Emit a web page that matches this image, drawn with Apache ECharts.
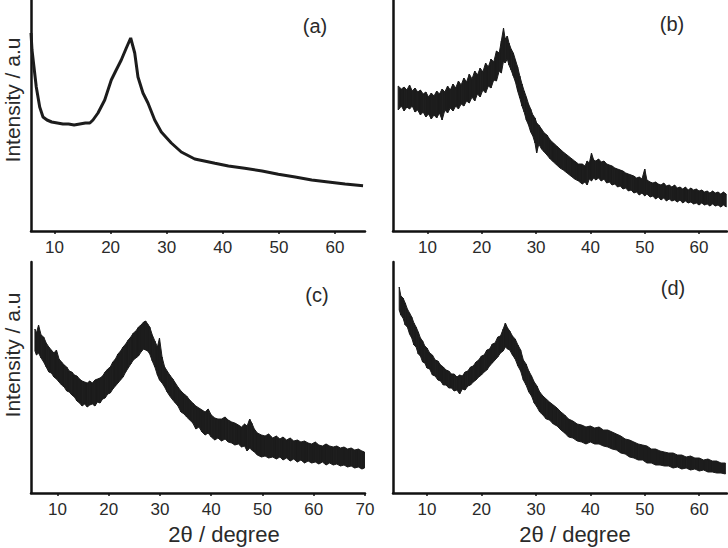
<!DOCTYPE html>
<html><head><meta charset="utf-8">
<script src="https://cdn.jsdelivr.net/npm/echarts@6/dist/echarts.min.js"></script>
<style>html,body{margin:0;padding:0;background:#fff}#c{width:728px;height:548px}</style>
</head><body><div id="c"></div>
<script>
// ---- tick labels ----
const ticksA = [10, 20, 30, 40, 50, 60];
const ticksB = [10, 20, 30, 40, 50, 60];
const ticksC = [10, 20, 30, 40, 50, 60, 70];
const ticksD = [10, 20, 30, 40, 50, 60];
const panelLabels = ['(a)', '(b)', '(c)', '(d)'];
const yName = 'Intensity / a.u';
const xName = '2θ / degree';

// ---- (a) smooth pattern: 2θ, intensity ----
const aX = [5.81, 5.99, 6.34, 6.75, 7.36, 7.95, 8.66, 9.5, 10.5, 11.5, 12.5, 13.5, 14.5, 15.5, 16.3, 16.86, 17.75, 18.95, 20.12, 21.0, 21.9, 22.8, 23.58, 24.3, 24.88, 25.77, 26.66, 27.86, 29.04, 30.82, 32.6, 35.0, 38.6, 41.0, 43.9, 47.0, 49.9, 52.9, 55.85, 58.8, 61.8, 65.0];
const aY = [198, 181, 164, 144, 124, 114, 111, 109, 108, 107, 107, 106, 107, 108, 108, 111, 118, 131, 151, 161, 171, 183, 193, 178, 154, 138, 128, 111, 99, 88, 79, 72, 67.7, 65, 62.7, 60, 56.7, 54, 51, 49, 47, 45.3];

// ---- (b) noisy pattern: 2θ, lower / upper edge of the noise band ----
const bX = [4.6, 5.2, 5.7, 6.2, 6.7, 7.2, 7.7, 8.2, 8.7, 9.2, 9.7, 10.2, 10.7, 11.2, 11.7, 12.2, 12.7, 13.2, 13.7, 14.2, 14.7, 15.2, 15.7, 16.2, 16.7, 17.2, 17.7, 18.2, 18.7, 19.2, 19.7, 20.2, 20.7, 21.2, 21.7, 22.2, 22.7, 23.2, 23.6, 24.0, 24.3, 24.7, 25.0, 25.4, 25.8, 26.2, 26.6, 27.0, 27.4, 27.8, 28.2, 28.6, 29.0, 29.4, 29.8, 30.1, 30.5, 31.0, 31.5, 32.0, 32.6, 33.2, 33.8, 34.4, 35.0, 35.7, 36.4, 37.1, 37.8, 38.5, 39.0, 39.4, 39.8, 40.2, 40.6, 41.0, 41.5, 42.0, 42.5, 43.0, 43.5, 44.0, 44.5, 45.0, 45.5, 46.0, 46.5, 47.0, 47.5, 48.0, 48.5, 49.0, 49.5, 50.0, 50.4, 51.0, 51.5, 52.0, 52.5, 53.0, 53.5, 54.0, 54.5, 55.0, 55.5, 56.0, 56.5, 57.0, 57.5, 58.0, 58.5, 59.0, 59.5, 60.0, 60.5, 61.0, 61.5, 62.0, 62.5, 63.0, 63.5, 64.0, 64.5, 65.0];
const bLo = [121, 125, 120, 124, 122, 125, 119, 121, 116, 119, 114, 117, 112, 116, 113, 118, 111, 121, 118, 123, 120, 125, 122, 127, 125, 130, 128, 134, 130, 137, 134, 141, 138, 145, 143, 151, 150, 160, 158, 170, 168, 172, 166, 161, 155, 149, 140, 133, 125, 119, 111, 106, 99, 95, 88, 78, 87, 82, 79, 76, 72, 69, 66, 63, 61, 58, 55, 52, 50, 47, 49, 46, 52, 50, 53, 51, 53, 50, 52, 48, 49, 46, 47, 44, 45, 42, 43, 40, 41, 38, 39, 36, 38, 35, 37, 34, 35, 32, 34, 31, 33, 30, 32, 30, 31, 29, 31, 28, 30, 28, 29, 27, 28, 26, 28, 26, 27, 25, 27, 25, 26, 24, 26, 24];
const bHi = [145, 142, 144, 141, 146, 140, 143, 139, 141, 137, 139, 134, 138, 135, 140, 137, 142, 139, 145, 141, 147, 143, 150, 146, 153, 149, 157, 152, 160, 156, 163, 159, 168, 164, 172, 169, 180, 178, 190, 203, 192, 195, 188, 182, 178, 171, 164, 155, 147, 140, 134, 127, 122, 116, 113, 108, 106, 102, 98, 96, 91, 88, 85, 82, 79, 76, 73, 70, 67, 67, 65, 70, 68, 78, 71, 70, 72, 69, 70, 67, 66, 65, 63, 62, 61, 60, 58, 57, 56, 55, 53, 54, 52, 62, 51, 49, 48, 49, 47, 46, 48, 45, 46, 44, 46, 43, 44, 42, 44, 41, 43, 41, 42, 40, 41, 39, 40, 38, 40, 38, 39, 37, 39, 37];

// ---- (c) noisy pattern ----
const cX = [5.6, 5.9, 6.3, 6.8, 7.3, 7.8, 8.3, 8.8, 9.3, 9.8, 10.3, 10.8, 11.3, 11.8, 12.3, 12.8, 13.3, 13.8, 14.3, 14.8, 15.3, 15.8, 16.3, 16.8, 17.3, 17.8, 18.3, 18.8, 19.3, 19.8, 20.3, 20.8, 21.3, 21.8, 22.3, 22.8, 23.3, 23.8, 24.3, 24.8, 25.3, 25.8, 26.3, 26.8, 27.2, 27.6, 28.0, 28.5, 29.0, 29.5, 29.9, 30.4, 30.9, 31.4, 31.9, 32.5, 33.0, 33.5, 34.1, 34.7, 35.2, 35.8, 36.4, 37.0, 37.6, 38.2, 38.8, 39.4, 40.0, 40.7, 41.3, 42.0, 42.7, 43.3, 44.0, 44.6, 45.3, 45.9, 46.5, 47.0, 47.5, 47.9, 48.4, 49.0, 49.8, 50.5, 51.2, 52.0, 52.7, 53.4, 54.0, 54.7, 55.4, 56.1, 56.8, 57.5, 58.2, 58.9, 59.6, 60.3, 61.0, 61.7, 62.4, 63.1, 63.8, 64.5, 65.2, 65.9, 66.6, 67.3, 68.0, 68.7, 69.4, 69.9];
const cLo = [142, 138, 140, 135, 131, 126, 121, 120, 116, 114, 111, 108, 106, 102, 101, 98, 96, 92, 90, 87, 89, 86, 88, 89, 87, 91, 90, 94, 95, 99, 100, 104, 107, 110, 113, 116, 121, 125, 129, 133, 135, 137, 141, 144, 143, 142, 139, 132, 126, 118, 113, 110, 106, 101, 97, 93, 90, 87, 81, 79, 76, 73, 70, 64, 66, 61, 58, 60, 56, 53, 55, 52, 54, 51, 50, 48, 49, 46, 47, 42, 45, 43, 41, 38, 36, 37, 35, 36, 34, 36, 33, 35, 32, 34, 31, 33, 30, 32, 30, 31, 29, 31, 28, 30, 28, 29, 27, 28, 26, 27, 25, 26, 24, 25];
const cHi = [164, 160, 168, 158, 156, 150, 146, 143, 140, 143, 134, 131, 128, 126, 122, 121, 118, 117, 114, 112, 111, 110, 112, 110, 113, 114, 115, 117, 121, 124, 126, 131, 134, 139, 142, 146, 149, 153, 156, 160, 162, 166, 168, 171, 172, 169, 166, 158, 152, 146, 155, 136, 126, 122, 118, 114, 110, 106, 102, 99, 97, 93, 90, 87, 85, 83, 81, 84, 78, 75, 74, 74, 76, 73, 71, 70, 68, 66, 69, 67, 74, 70, 64, 60, 58, 57, 59, 55, 57, 54, 56, 53, 55, 52, 53, 51, 52, 50, 49, 51, 48, 47, 49, 47, 46, 47, 45, 46, 44, 45, 43, 44, 42, 41];

// ---- (d) noisy pattern ----
const dX = [4.9, 5.2, 5.6, 6.0, 6.4, 6.8, 7.2, 7.6, 8.0, 8.4, 8.8, 9.2, 9.6, 10.0, 10.5, 11.0, 11.5, 12.0, 12.5, 13.0, 13.5, 14.0, 14.5, 15.0, 15.5, 16.0, 16.5, 17.0, 17.5, 18.0, 18.5, 19.0, 19.5, 20.0, 20.5, 21.0, 21.5, 22.0, 22.5, 23.0, 23.5, 24.0, 24.4, 24.8, 25.2, 25.7, 26.2, 26.7, 27.2, 27.7, 28.2, 28.7, 29.2, 29.7, 30.2, 30.7, 31.3, 31.9, 32.5, 33.2, 33.9, 34.6, 35.3, 36.0, 36.8, 37.6, 38.4, 39.2, 40.0, 40.8, 41.6, 42.4, 43.2, 44.0, 44.8, 45.6, 46.4, 47.2, 48.0, 48.8, 49.6, 50.4, 51.2, 52.0, 52.8, 53.6, 54.4, 55.2, 56.0, 56.8, 57.6, 58.4, 59.2, 60.0, 60.8, 61.6, 62.4, 63.2, 64.0, 64.8];
const dLo = [183, 178, 175, 168, 166, 159, 155, 148, 146, 139, 137, 131, 130, 125, 124, 118, 117, 113, 112, 108, 108, 105, 105, 102, 103, 99, 104, 103, 107, 108, 111, 113, 116, 118, 121, 123, 127, 130, 133, 136, 140, 142, 146, 144, 143, 138, 134, 127, 122, 113, 108, 101, 97, 90, 86, 81, 78, 74, 73, 69, 67, 63, 60, 56, 55, 52, 51, 49, 51, 49, 49, 47, 46, 44, 43, 40, 39, 36, 35, 33, 33, 30, 30, 28, 28, 27, 27, 25, 26, 24, 25, 23, 24, 22, 23, 21, 21, 20, 20, 19];
const dHi = [206, 197, 195, 190, 184, 180, 176, 170, 166, 161, 155, 152, 147, 145, 140, 138, 133, 132, 128, 126, 123, 122, 119, 119, 116, 118, 117, 121, 122, 126, 127, 131, 133, 137, 138, 143, 144, 149, 150, 156, 157, 164, 170, 165, 162, 157, 154, 148, 143, 133, 129, 122, 117, 111, 107, 101, 97, 94, 91, 88, 85, 81, 78, 74, 72, 69, 68, 66, 67, 65, 66, 63, 63, 61, 59, 57, 54, 53, 51, 49, 48, 47, 44, 44, 42, 41, 40, 40, 38, 38, 36, 37, 35, 35, 33, 34, 32, 32, 30, 30];

// ---- build tables for the library ----
function lineData(xs, ys) { return xs.map((x, i) => [x, ys[i]]); }
function bandData(xs, lo, hi) {
  const out = [];
  for (let i = 0; i < xs.length - 1; i++) out.push([xs[i], lo[i], hi[i], xs[i + 1], lo[i + 1], hi[i + 1]]);
  return out;
}
const INK = '#1c1c1c';
function bandItem(params, api) {
  const p0 = api.coord([api.value(0), api.value(1)]);
  const p1 = api.coord([api.value(0), api.value(2)]);
  const p2 = api.coord([api.value(3), api.value(5)]);
  const p3 = api.coord([api.value(3), api.value(4)]);
  return { type: 'polygon', shape: { points: [p0, p1, p2, p3] },
    style: { fill: INK, stroke: INK, lineWidth: 1 } };
}

const FONT = 'Liberation Sans, Arial, sans-serif';
const grids = [
  { left: 31, top: 0, width: 334, height: 231 },
  { left: 393, top: 0, width: 334, height: 231 },
  { left: 31, top: 262, width: 334, height: 231 },
  { left: 393, top: 262, width: 334, height: 231 }
];
const xRanges = [[5.81, 65.35], [3.65, 65.15], [4.83, 70], [3.76, 65.1]];
const xTickSets = [ticksA, ticksB, ticksC, ticksD];

const xAxes = grids.map((g, i) => ({
  type: 'value', gridIndex: i, min: xRanges[i][0], max: xRanges[i][1],
  axisLine: { onZero: false, lineStyle: { color: '#111', width: 2.5 } },
  axisTick: { show: true, length: 3, customValues: xTickSets[i], lineStyle: { color: '#111', width: 1.5 } },
  axisLabel: { customValues: xTickSets[i], color: '#2a2a2a', fontSize: 17, fontFamily: FONT, margin: 8 },
  splitLine: { show: false }
}));
const yAxes = grids.map((g, i) => ({
  type: 'value', gridIndex: i, min: 0, max: 231,
  axisLine: { show: true, onZero: false, lineStyle: { color: '#111', width: 2.5 } },
  axisTick: { show: false }, axisLabel: { show: false }, splitLine: { show: false }
}));

const series = [
  { type: 'line', xAxisIndex: 0, yAxisIndex: 0, data: lineData(aX, aY), symbol: 'none',
    lineStyle: { color: INK, width: 3 }, silent: true, animation: false },
  { type: 'custom', xAxisIndex: 1, yAxisIndex: 1, data: bandData(bX, bLo, bHi), renderItem: bandItem,
    encode: { x: [0, 3], y: [1, 2, 4, 5] }, silent: true, animation: false },
  { type: 'custom', xAxisIndex: 2, yAxisIndex: 2, data: bandData(cX, cLo, cHi), renderItem: bandItem,
    encode: { x: [0, 3], y: [1, 2, 4, 5] }, silent: true, animation: false },
  { type: 'custom', xAxisIndex: 3, yAxisIndex: 3, data: bandData(dX, dLo, dHi), renderItem: bandItem,
    encode: { x: [0, 3], y: [1, 2, 4, 5] }, silent: true, animation: false }
];

const labelPos = [[315, 26], [672, 24], [317, 295], [673, 288]];
const graphic = labelPos.map((p, i) => ({
  type: 'text', x: p[0], y: p[1],
  style: { text: panelLabels[i], font: '20px ' + FONT, fill: '#2a2a2a', textAlign: 'center', textVerticalAlign: 'middle' }
}));
[[12.5, 100], [12.5, 355]].forEach(p => graphic.push({
  type: 'text', x: p[0], y: p[1], rotation: Math.PI / 2,
  style: { text: yName, font: '21px ' + FONT, fill: '#2a2a2a', textAlign: 'center', textVerticalAlign: 'middle' }
}));
[[224, 534], [575, 534]].forEach(p => graphic.push({
  type: 'text', x: p[0], y: p[1],
  style: { text: xName, font: '22px ' + FONT, fill: '#2a2a2a', textAlign: 'center', textVerticalAlign: 'middle' }
}));

const chart = echarts.init(document.getElementById('c'), null, { renderer: 'svg' });
chart.setOption({ animation: false, backgroundColor: '#fff', grid: grids, xAxis: xAxes, yAxis: yAxes, series, graphic });
</script></body></html>
